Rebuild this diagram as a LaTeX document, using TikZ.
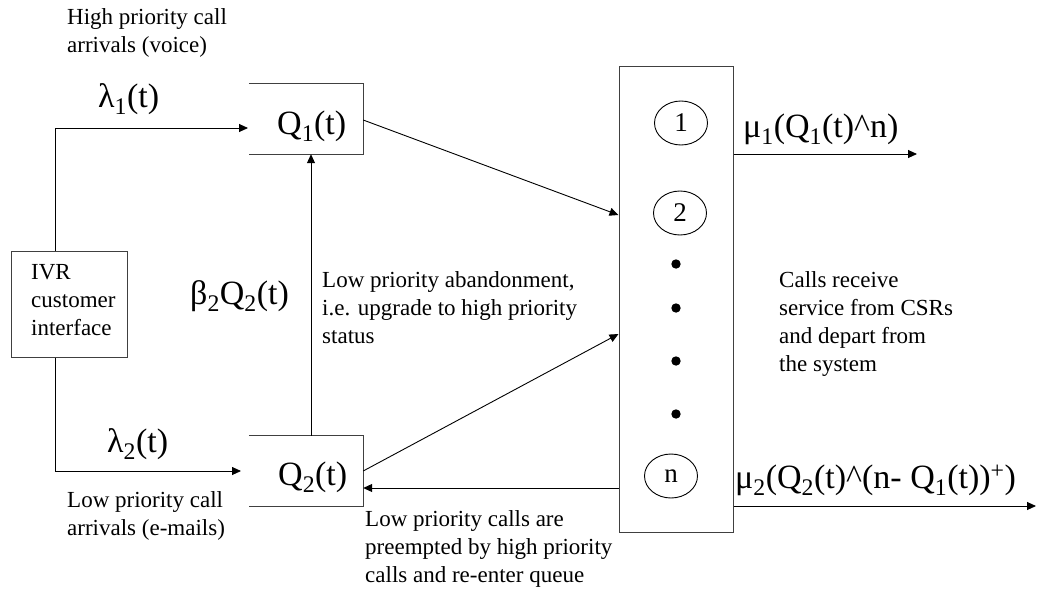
\documentclass[tikz,border=0pt]{standalone}
\usepackage{fontspec}
\setmainfont{Liberation Serif}
\usetikzlibrary{arrows.meta,calc,shapes.geometric}
\tikzset{
  conn/.style={line width=0.9pt,-{Triangle[length=9pt,width=8pt]}},
  boxline/.style={line width=1pt,draw=black!75},
  small/.style={font=\fontsize{23}{27.8}\selectfont,inner sep=0pt,align=left},
  big/.style={font=\fontsize{34}{40}\selectfont,inner sep=0pt},
  srv/.style={draw,ellipse,line width=0.9pt,minimum width=53pt,minimum height=44pt,inner sep=0pt,font=\fontsize{27}{30}\selectfont},
  openbox/.style={minimum width=114pt,minimum height=70pt,inner sep=0pt},
}
\begin{document}
\begin{tikzpicture}[x=1pt,y=-1pt]
\useasboundingbox (0,0) rectangle (1037,590);
% queue boxes (open on the left)
\node[openbox] (q1) at (306,119) {};
\node[openbox] (q2) at (306,471) {};
\draw[boxline] (q1.north west) -- (q1.north east) -- (q1.south east) -- (q1.south west);
\draw[boxline] (q2.north west) -- (q2.north east) -- (q2.south east) -- (q2.south west);
% IVR box and server box
\node[draw,boxline,minimum width=116pt,minimum height=106pt,inner sep=0pt] (ivr) at (69,304) {};
\node[draw,boxline,minimum width=114pt,minimum height=466pt,inner sep=0pt] (srvbox) at (676,299) {};
% servers
\node[srv] (s1) at (681,123) {1};
\node[srv] (s2) at (680,213) {2};
\node[srv] (sn) at (671,476) {n};
\fill (676,264) circle[radius=4.7pt];
\fill (676,308) circle[radius=4.7pt];
\fill (676,361) circle[radius=4.7pt];
\fill (676,414) circle[radius=4.7pt];
% big labels
\node[big,anchor=base west] (q1lab) at (277,134) {Q\textsubscript{1}(t)};
\node[big,anchor=base west] (q2lab) at (278,485) {Q\textsubscript{2}(t)};
\node[big,anchor=base west] (lam1) at (98,107) {λ\textsubscript{1}(t)};
\node[big,anchor=base west] (lam2) at (107,452) {λ\textsubscript{2}(t)};
\node[big,anchor=base west] (beta) at (190,304) {β\textsubscript{2}Q\textsubscript{2}(t)};
\node[big,anchor=base west] (mu1) at (743,137) {μ\textsubscript{1}(Q\textsubscript{1}(t)\textasciicircum n)};
\node[big,anchor=base west] (mu2) at (735,488) {μ\textsubscript{2}(Q\textsubscript{2}(t)\textasciicircum(n- Q\textsubscript{1}(t))\textsuperscript{+})};
% small texts (anchored at the baseline of their last line)
\node[small,anchor=base west] (hi) at (67,52) {High priority call\\arrivals (voice)};
\node[small,anchor=base west] (ivrtxt) at (31,335) {IVR\\customer\\interface};
\node[small,anchor=base west] (aband) at (322,343) {Low priority abandonment,\\i.e. upgrade to high priority\\status};
\node[small,anchor=base west] (calls) at (779,371) {Calls receive\\service from CSRs\\and depart from\\the system};
\node[small,anchor=base west] (lowarr) at (67,535) {Low priority call\\arrivals (e-mails)};
\node[small,anchor=base west] (preempt) at (365,582) {Low priority calls are\\preempted by high priority\\calls and re-enter queue};
% connectors
\coordinate (in1) at (248,128);
\coordinate (in2) at (241,471);
\coordinate (out1) at (917,154);
\coordinate (out2) at (1036,506);
\draw[conn] ([xshift=-14pt]ivr.north) |- (in1);
\draw[conn] ([xshift=-14pt]ivr.south) |- (in2);
\draw[conn] ([xshift=5pt]q2.north) -- ([xshift=5pt]q1.south);
\draw[conn] ([yshift=-1pt]q1.east) -- ([yshift=84pt]srvbox.west);
\draw[conn] (q2.east) -- ([yshift=-35pt]srvbox.west);
\draw[conn] ([yshift=-189pt]srvbox.west) -- ([yshift=-17pt]q2.east);
\draw[conn] ([yshift=145pt]srvbox.east) -- (out1);
\draw[conn] ([yshift=-207pt]srvbox.east) -- (out2);
\end{tikzpicture}
\end{document}
